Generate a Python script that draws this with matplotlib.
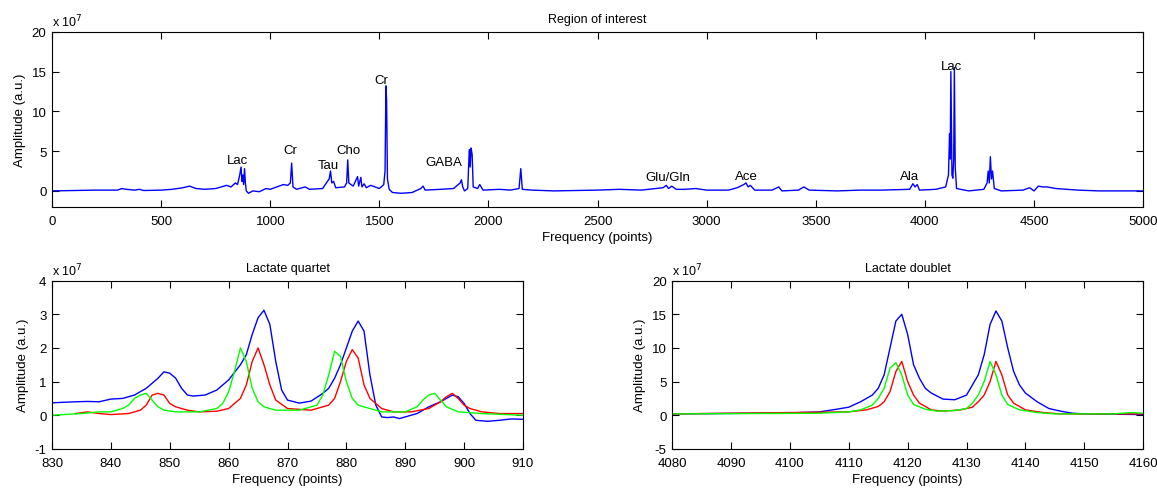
"""Region-of-interest spectrum with lactate quartet/doublet close-ups."""

import matplotlib
matplotlib.use("Agg")
import matplotlib.pyplot as plt

plt.rcParams["font.family"] = ["Liberation Sans", "DejaVu Sans"]
plt.rcParams["font.size"] = 9
plt.rcParams["axes.unicode_minus"] = False

# ---- full spectrum (amplitude in units of 1e7) ----
spec_x = [0, 100, 200, 300, 320, 340, 380, 400, 420, 500, 550, 600, 630, 660, 700,
          750, 800, 820, 840, 850, 860, 866, 870, 874, 878, 882, 886, 890, 900, 920,
          950, 980, 1000, 1040, 1060, 1080, 1092, 1098, 1104, 1120, 1160, 1180, 1240,
          1262, 1270, 1276, 1282, 1290, 1300, 1340, 1350, 1355, 1360, 1380, 1400, 1405,
          1415, 1420, 1430, 1440, 1460, 1480, 1500, 1520, 1526, 1530, 1533, 1537, 1545,
          1560, 1600, 1650, 1690, 1700, 1710, 1780, 1840, 1870, 1876, 1882, 1890, 1905,
          1912, 1916, 1920, 1925, 1930, 1950, 1960, 1975, 2050, 2100, 2140, 2148, 2155,
          2200, 2300, 2500, 2600, 2700, 2800, 2815, 2825, 2840, 2860, 2900, 2950, 3000,
          3100, 3140, 3170, 3180, 3190, 3200, 3220, 3300, 3330, 3345, 3420, 3445, 3470,
          3600, 3700, 3800, 3930, 3945, 3955, 3965, 3975, 4050, 4095, 4108, 4113, 4116,
          4119, 4124, 4128, 4132, 4135, 4139, 4145, 4200, 4270, 4285, 4290, 4295, 4300,
          4305, 4310, 4318, 4350, 4450, 4480, 4500, 4520, 4540, 4560, 4600, 4700, 4800,
          5000]
spec_y = [0.0, 0.05, 0.1, 0.1, 0.3, 0.2, 0.1, 0.2, 0.05, 0.1, 0.2, 0.4, 0.6, 0.3, 0.2,
          0.3, 0.7, 0.5, 1.0, 0.8, 2.0, 3.0, 1.2, 2.0, 0.8, 2.8, 1.0, 0.0, -0.3, 0.0,
          -0.1, 0.3, 0.2, 0.6, 0.8, 0.7, 1.0, 3.5, 0.5, 0.2, 0.5, 0.2, 0.3,
          1.2, 1.5, 2.5, 1.0, 1.2, 0.4, 0.5, 1.0, 3.9, 1.0, 0.6, 1.8, 0.6,
          1.7, 0.5, 0.9, 0.4, 0.7, 0.5, 0.3, 0.8, 2.5, 13.2, 11.5, 1.5, 0.2,
          -0.2, -0.3, -0.2, 0.3, 0.6, 0.1, 0.2, 0.3, 1.0, 1.4, 0.5, 0.0, 0.3,
          5.2, 3.0, 5.4, 4.6, 0.5, 0.3, 0.8, 0.1, 0.2, 0.1, 0.3, 2.8, 0.2,
          0.1, 0.0, 0.1, 0.2, 0.1, 0.4, 0.7, 0.3, 0.6, 0.2, 0.2, 0.3, 0.1,
          0.1, 0.4, 0.8, 1.0, 0.5, 0.7, 0.1, 0.1, 0.5, 0.0, 0.1, 0.5, 0.1,
          0.0, 0.1, 0.1, 0.2, 0.9, 0.5, 0.8, 0.1, 0.2, 0.5, 2.0, 7.2, 4.0,
          15.0, 2.0, 1.6, 4.0, 15.5, 3.0, 0.3, 0.0, 0.2, 1.0, 2.5, 1.0, 4.3,
          1.5, 2.5, 0.3, 0.0, 0.1, 0.4, 0.0, 0.6, 0.5, 0.5, 0.3, 0.1, 0.0,
          0.0]

peak_names = ["Lac", "Cr", "Tau", "Cho", "Cr", "GABA", "Glu/Gln", "Ace", "Ala", "Lac"]
peak_x = [848, 1091, 1265, 1357, 1508, 1797, 2823, 3181, 3928, 4120]
peak_y = [3.9, 5.1, 3.25, 5.1, 14.0, 3.6, 1.75, 1.9, 1.9, 15.75]

# ---- lactate quartet ----
q_blue_x = [830, 834, 836, 838, 840, 842, 844, 846, 848, 849, 850, 851, 852, 853, 854,
            856, 858, 860, 862, 863, 864, 865, 866, 867, 868, 869, 870, 872, 874, 876,
            877, 878, 879, 880, 881, 882, 883, 884, 885, 886, 887, 888, 889, 890, 892,
            894, 896, 898, 899, 900, 901, 902, 904, 906, 908, 910]
q_blue_y = [0.37, 0.40, 0.41, 0.40, 0.48, 0.50, 0.60, 0.80, 1.10, 1.29, 1.25, 1.10,
            0.80, 0.60, 0.57, 0.60, 0.75, 1.05, 1.50, 1.80, 2.40, 2.90, 3.12, 2.70,
            1.60, 0.75, 0.45, 0.36, 0.42, 0.65, 0.80, 1.10, 1.50, 2.00, 2.50, 2.80,
            2.50, 1.20, 0.30, -0.05, -0.07, -0.05, -0.10, -0.05, 0.05, 0.25, 0.40,
            0.60, 0.55, 0.35, 0.05, -0.15, -0.18, -0.15, -0.11, -0.12]
q_red_x = [834, 836, 838, 840, 843, 845, 846, 847, 848, 849, 850, 851, 853, 855, 858,
           860, 862, 863, 864, 865, 866, 867, 868, 870, 874, 877, 878, 879, 880, 881,
           882, 883, 884, 886, 888, 891, 894, 896, 897, 898, 899, 900, 901, 903, 906,
           910]
q_red_y = [0.05, 0.10, 0.05, 0.02, 0.05, 0.15, 0.30, 0.60, 0.65, 0.60, 0.35, 0.25,
           0.15, 0.10, 0.12, 0.20, 0.50, 0.90, 1.60, 2.00, 1.50, 0.90, 0.45, 0.20,
           0.15, 0.30, 0.50, 1.00, 1.60, 1.95, 1.70, 0.90, 0.50, 0.20, 0.10, 0.10,
           0.20, 0.40, 0.55, 0.65, 0.50, 0.30, 0.20, 0.10, 0.05, 0.05]
q_green_x = [830, 835, 838, 840, 842, 843, 844, 845, 846, 847, 848, 849, 851, 855, 858,
             859, 860, 861, 862, 863, 864, 865, 866, 868, 872, 875, 876, 877, 878, 879,
             880, 881, 882, 884, 886, 890, 892, 893, 894, 895, 896, 897, 899, 903, 910]
q_green_y = [0.0, 0.05, 0.10, 0.10, 0.20, 0.30, 0.50, 0.60, 0.65, 0.45, 0.25, 0.15,
             0.10, 0.10, 0.20, 0.35, 0.70, 1.30, 2.00, 1.60, 0.80, 0.40, 0.25, 0.15,
             0.15, 0.30, 0.60, 1.20, 1.90, 1.75, 1.00, 0.50, 0.30, 0.20, 0.10, 0.10,
             0.25, 0.45, 0.60, 0.65, 0.45, 0.25, 0.10, 0.05, 0.0]

# ---- lactate doublet ----
d_blue_x = [4080, 4095, 4100, 4105, 4108, 4110, 4112, 4114, 4115, 4116, 4117, 4118,
            4119, 4120, 4121, 4122, 4123, 4124, 4126, 4128, 4130, 4132, 4133, 4134,
            4135, 4136, 4137, 4138, 4139, 4140, 4142, 4144, 4146, 4148, 4150, 4160]
d_blue_y = [0.2, 0.3, 0.35, 0.5, 0.9, 1.2, 2.0, 3.0, 4.0, 6.0, 10.0, 14.0, 15.0, 12.0,
            7.5, 5.5, 4.0, 3.3, 2.4, 2.3, 3.0, 6.0, 9.0, 13.5, 15.5, 14.0, 10.0, 6.5,
            4.5, 3.3, 2.0, 1.0, 0.6, 0.3, 0.2, 0.1]
d_red_x = [4080, 4110, 4113, 4115, 4116, 4117, 4118, 4119, 4120, 4121, 4122, 4124,
           4126, 4129, 4131, 4132, 4133, 4134, 4135, 4136, 4137, 4138, 4140, 4143,
           4146, 4160]
d_red_y = [0.2, 0.5, 0.8, 1.3, 2.0, 3.5, 6.5, 8.0, 5.0, 3.0, 1.8, 0.8, 0.6, 0.8, 1.2,
           2.0, 3.0, 5.0, 8.0, 6.0, 3.0, 1.8, 0.8, 0.4, 0.2, 0.2]
d_green_x = [4080, 4105, 4110, 4112, 4114, 4115, 4116, 4117, 4118, 4119, 4120, 4121,
             4123, 4125, 4128, 4130, 4131, 4132, 4133, 4134, 4135, 4136, 4137, 4139,
             4142, 4145, 4155, 4158, 4160]
d_green_y = [0.2, 0.3, 0.5, 0.8, 1.5, 2.5, 4.0, 7.0, 7.8, 6.0, 3.0, 1.6, 0.9, 0.6, 0.7,
             1.0, 1.8, 3.0, 5.0, 8.0, 6.0, 3.0, 1.6, 0.8, 0.4, 0.2, 0.2, 0.4, 0.3]

BLUE, RED, GREEN = "#0000ff", "#ff0000", "#00ff00"


def style(ax, title, xlim, ylim, xticks, yticks):
    ax.set_xlim(*xlim); ax.set_ylim(*ylim)
    ax.set_xticks(xticks); ax.set_yticks(yticks)
    ax.tick_params(direction="in", top=True, right=True, length=5, width=0.8,
                   labelsize=9.5)
    ax.tick_params(axis="x", pad=6)
    ax.tick_params(axis="y", pad=4)
    for s in ax.spines.values():
        s.set_linewidth(0.8)
    ax.set_title(title, fontsize=9, pad=7)
    ax.set_xlabel("Frequency (points)", fontsize=9.5, labelpad=3)
    ax.set_ylabel("Amplitude (a.u.)", fontsize=9.5, labelpad=4)
    ax.text(0.0, 1.012, r"x 10$^7$", transform=ax.transAxes, fontsize=9,
            ha="left", va="bottom")


fig = plt.figure(figsize=(11.57, 4.89), dpi=100)
ax_top = fig.add_axes([0.045, 0.575, 0.943, 0.358])
ax_q = fig.add_axes([0.045, 0.080, 0.407, 0.344])
ax_d = fig.add_axes([0.581, 0.080, 0.407, 0.344])

ax_top.plot(spec_x, spec_y, color=BLUE, lw=1.0)
for name, px, py in zip(peak_names, peak_x, peak_y):
    ax_top.text(px, py, name, ha="center", va="center", fontsize=9.5)
style(ax_top, "Region of interest", (0, 5000), (-2, 20),
      range(0, 5001, 500), [0, 5, 10, 15, 20])

ax_q.plot(q_blue_x, q_blue_y, color=BLUE, lw=1.0)
ax_q.plot(q_red_x, q_red_y, color=RED, lw=1.0)
ax_q.plot(q_green_x, q_green_y, color=GREEN, lw=1.0)
style(ax_q, "Lactate quartet", (830, 910), (-1, 4),
      range(830, 911, 10), [-1, 0, 1, 2, 3, 4])

ax_d.plot(d_blue_x, d_blue_y, color=BLUE, lw=1.0)
ax_d.plot(d_red_x, d_red_y, color=RED, lw=1.0)
ax_d.plot(d_green_x, d_green_y, color=GREEN, lw=1.0)
style(ax_d, "Lactate doublet", (4080, 4160), (-5, 20),
      range(4080, 4161, 10), [-5, 0, 5, 10, 15, 20])

fig.savefig("out.png", dpi=100)
